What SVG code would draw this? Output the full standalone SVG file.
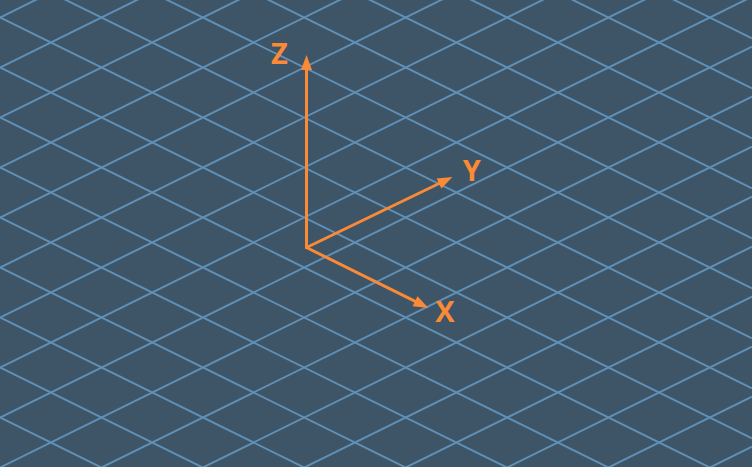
<svg xmlns="http://www.w3.org/2000/svg" width="752" height="467" viewBox="0 0 752 467">
<style>
.bg{fill:#3e5467}
.grid{fill:none;stroke:#6090b6;stroke-width:2}
.axis{fill:none;stroke:#fb8a36;stroke-width:3;stroke-linecap:round;stroke-linejoin:round}
.lbl{font-family:"Open Sans","DejaVu Sans",sans-serif;font-weight:700;font-size:29px;fill:#fb8a36;text-anchor:middle}
</style>
<defs>
<marker id="arr" markerUnits="userSpaceOnUse" markerWidth="16" markerHeight="12" refX="7" refY="5.5" orient="auto" overflow="visible">
<path d="M0,0 L15,5.5 L0,11 z" fill="#fb8a36"/>
</marker>
</defs>
<rect class="bg" x="0" y="0" width="752" height="467"/>
<g id="grid">
<path class="grid" d="M0,-332.5 L752,38.3 M0,-282.5 L752,88.3 M0,-232.5 L752,138.3 M0,-182.5 L752,188.3 M0,-132.5 L752,238.3 M0,-82.5 L752,288.3 M0,-32.5 L752,338.3 M0,17.5 L752,388.3 M0,67.5 L752,438.3 M0,117.5 L752,488.3 M0,167.5 L752,538.3 M0,217.5 L752,588.3 M0,267.5 L752,638.3 M0,317.5 L752,688.3 M0,367.5 L752,738.3 M0,417.5 L752,788.3"/>
<path class="grid" d="M0,17.5 L752,-353.3 M0,67.5 L752,-303.3 M0,117.5 L752,-253.3 M0,167.5 L752,-203.3 M0,217.5 L752,-153.3 M0,267.5 L752,-103.3 M0,317.5 L752,-53.3 M0,367.5 L752,-3.3 M0,417.5 L752,46.7 M0,467.5 L752,96.7 M0,517.5 L752,146.7 M0,567.5 L752,196.7 M0,617.5 L752,246.7 M0,667.5 L752,296.7 M0,717.5 L752,346.7 M0,767.5 L752,396.7 M0,817.5 L752,446.7"/>
</g>
<g id="connectors">
<path id="axis-z" class="axis" d="M306.5,247.5 L306.5,63" marker-end="url(#arr)"/>
<path id="axis-y" class="axis" d="M306.5,247.5 L445.3,180.5" marker-end="url(#arr)"/>
<path id="axis-x" class="axis" d="M306.5,247.5 L421.3,304.4" marker-end="url(#arr)"/>
</g>
<g id="label-z"><text class="lbl" x="279.5" y="63.5">Z</text></g>
<g id="label-y"><text class="lbl" x="471.7" y="181">Y</text></g>
<g id="label-x"><text class="lbl" x="445" y="321.5">X</text></g>
</svg>
